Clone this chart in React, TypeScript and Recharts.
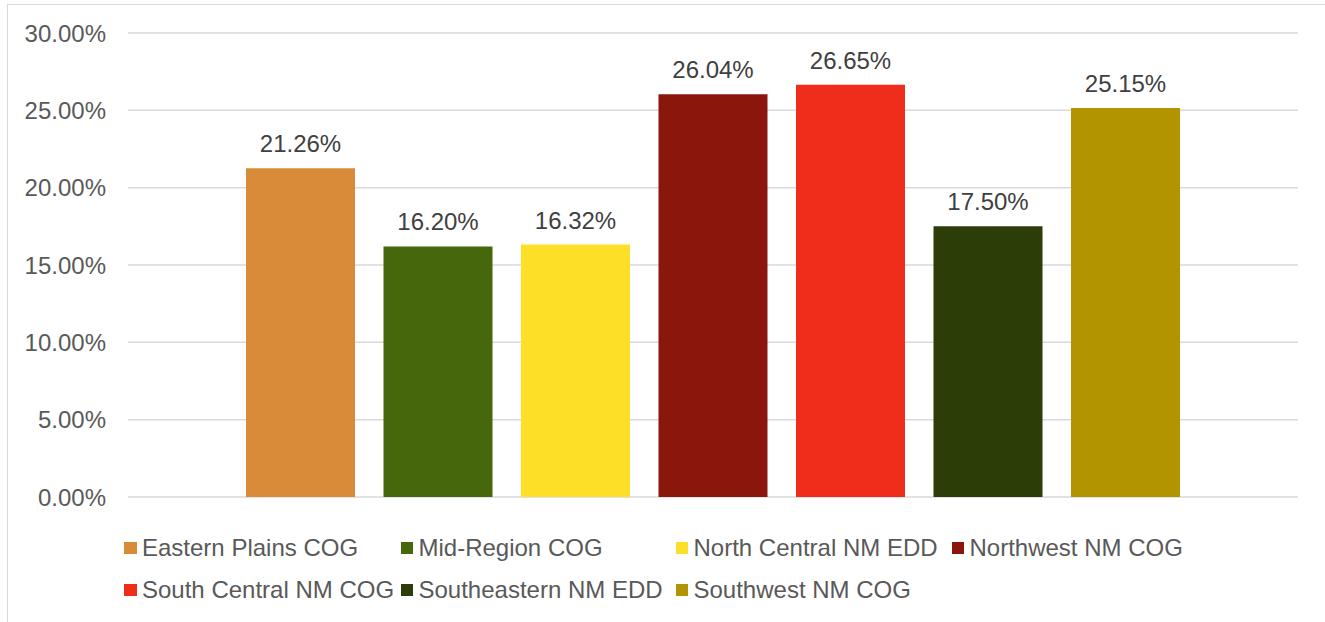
import { BarChart, Bar, XAxis, YAxis, CartesianGrid, LabelList, Legend } from "recharts";

const regions = [
  "Eastern Plains COG",
  "Mid-Region COG",
  "North Central NM EDD",
  "Northwest NM COG",
  "South Central NM COG",
  "Southeastern NM EDD",
  "Southwest NM COG",
];
const shares = [21.26, 16.2, 16.32, 26.04, 26.65, 17.5, 25.15];
const colors = ["#D98B3A", "#47670C", "#FDDF27", "#8B160C", "#EF2D1A", "#2D3D07", "#B29400"];
const yTicks = [0, 5, 10, 15, 20, 25, 30];

const row: Record<string, number | string> = { name: "All" };
regions.forEach((r, i) => {
  row[r] = shares[i];
});
const data = [row];

const font = "'Liberation Sans', Arial, sans-serif";
const pct = (v: number) => `${Number(v).toFixed(2)}%`;

const legendCols = [276.5, 275, 276, 276];

const LegendBox = () => (
  <div
    style={{
      height: 114,
      paddingTop: 30,
      paddingLeft: 124,
      boxSizing: "border-box",
      display: "grid",
      gridTemplateColumns: legendCols.map((w) => `${w}px`).join(" "),
      gridAutoRows: "42px",
      fontFamily: font,
      fontSize: 24,
      color: "#595959",
    }}
  >
    {regions.map((r, i) => (
      <div key={r} style={{ display: "flex", alignItems: "center", whiteSpace: "nowrap" }}>
        <span style={{ width: 12.5, height: 12.5, background: colors[i], marginRight: 5.5, flex: "none" }} />
        {r}
      </div>
    ))}
  </div>
);

export default function App() {
  return (
    <div style={{ position: "absolute", left: 0, top: 0, width: 1325, height: 622, background: "#fff", overflow: "hidden" }}>
      <div
        style={{
          position: "absolute",
          left: 7,
          top: 4,
          width: 1400,
          height: 700,
          borderLeft: "1.5px solid #D9D9D9",
          borderTop: "1.5px solid #D9D9D9",
        }}
      />
      <BarChart
        width={1325}
        height={622}
        data={data}
        margin={{ top: 33, right: 27, left: 0, bottom: 11 }}
        barCategoryGap={118}
        barGap={28.5}
        style={{ position: "absolute", left: 0, top: 0 }}
      >
        <CartesianGrid vertical={false} stroke="#D9D9D9" strokeWidth={1.5} />
        <XAxis dataKey="name" hide />
        <YAxis
          width={128}
          domain={[0, 30]}
          ticks={yTicks}
          axisLine={false}
          tickLine={false}
          tickMargin={16}
          tickFormatter={pct}
          tick={{ fill: "#595959", fontSize: 24, fontFamily: font }}
        />
        <Legend verticalAlign="bottom" content={() => <LegendBox />} />
        {regions.map((r, i) => (
          <Bar key={r} dataKey={r} fill={colors[i]} isAnimationActive={false}>
            <LabelList
              dataKey={r}
              position="top"
              offset={16}
              formatter={(v: any) => pct(v)}
              style={{ fill: "#404040", fontSize: 24, fontFamily: font }}
            />
          </Bar>
        ))}
      </BarChart>
    </div>
  );
}
